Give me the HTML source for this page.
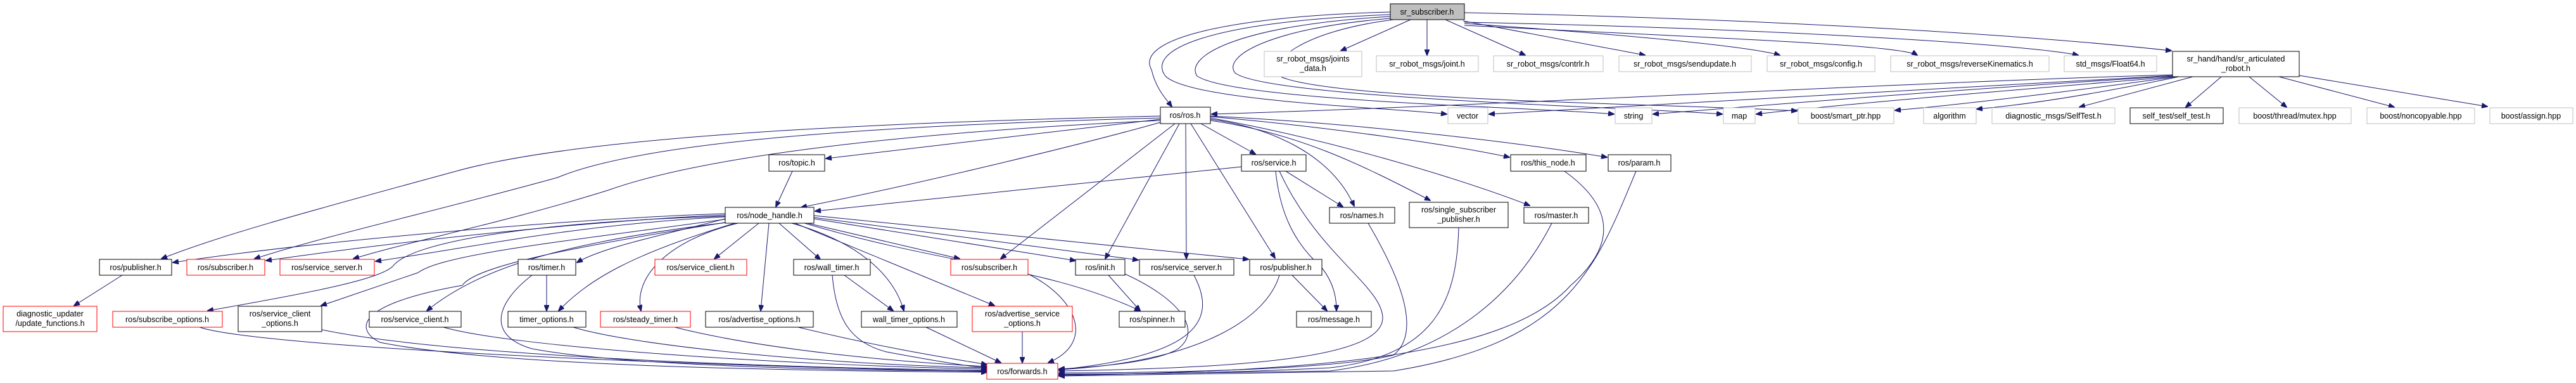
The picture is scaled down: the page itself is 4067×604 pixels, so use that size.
<!DOCTYPE html>
<html><head><meta charset="utf-8"><style>
html,body{margin:0;padding:0;background:#fff;}
svg{display:block;}
text{font-family:"Liberation Sans",sans-serif;font-size:12.5px;fill:#000;text-anchor:middle;}
.k{fill:#fff;stroke:#000;stroke-width:1;}
.r{fill:#fff;stroke:#ff0000;stroke-width:1;}
.g{fill:#fff;stroke:#bfbfbf;stroke-width:1;}
path{fill:none;stroke:#191970;stroke-width:1;}
</style></head><body>
<svg width="4067" height="604" viewBox="0 0 4067 604" xmlns="http://www.w3.org/2000/svg">
<defs><marker id="a" markerWidth="10" markerHeight="8" refX="9" refY="4" orient="auto" markerUnits="userSpaceOnUse"><polygon points="0,0 10,4 0,8" fill="#191970" stroke="#191970"/></marker></defs>
<g marker-end="url(#a)">
<!-- sr_subscriber edges -->
<path d="M2227,31 L2117,80"/>
<path d="M2253,31 L2253,87"/>
<path d="M2282,31 L2408,87"/>
<path d="M2310,33 L2597,87"/>
<path d="M2312,37 C2500,50 2750,70 2810,87"/>
<path d="M2312,40 C2700,60 3000,70 3027,87"/>
<path d="M2312,35 C2800,45 3200,70 3281,87"/>
<path d="M2312,20 C2800,30 3200,55 3428,80"/>
<path d="M2195,19 C1950,25 1790,60 1818,110 C1825,140 1840,155 1850,168"/>
<path d="M2195,23 C1900,35 1810,80 1840,120 C1880,160 2200,170 2284,180"/>
<path d="M2195,26 C1950,40 1870,90 1890,120 C1950,160 2450,170 2548,180"/>
<path d="M2195,29 C2000,45 1930,90 1950,115 C2000,155 2600,170 2719,180"/>
<path d="M2200,31 C2050,50 2000,100 2020,120 C2100,160 2700,165 2837,175"/>
<!-- sr_articulated edges -->
<path d="M3432,119 C3000,140 2600,165 2351,180"/>
<path d="M3432,120 C3100,140 2800,165 2610,180"/>
<path d="M3434,121 C3200,140 2900,165 2773,180"/>
<path d="M3436,121 C3300,140 3100,165 2992,174"/>
<path d="M3440,121 C3300,150 3200,165 3121,172"/>
<path d="M3430,118 C3000,130 2400,165 1913,180"/>
<path d="M3462,121 L3283,169"/>
<path d="M3507,121 L3451,169"/>
<path d="M3551,121 L3610,169"/>
<path d="M3598,121 L3780,169"/>
<path d="M3630,119 L3927,168"/>
<!-- ros.h edges -->
<path d="M1832,188 L1304,250"/>
<path d="M1832,193 C1700,230 1450,290 1265,327"/>
<path d="M1832,183 C1300,195 900,220 720,270 C500,330 350,370 255,408"/>
<path d="M1832,186 C1300,200 1000,230 880,280 C700,330 520,370 402,408"/>
<path d="M1832,190 C1400,210 1100,250 960,300 C800,350 650,380 558,408"/>
<path d="M1855,195 L1580,408"/>
<path d="M1862,195 L1745,408"/>
<path d="M1872,195 L1873,408"/>
<path d="M1880,195 L2013,407"/>
<path d="M1896,195 L1982,243"/>
<path d="M1911,188 C2000,200 2100,240 2138,325"/>
<path d="M1911,190 C2050,210 2150,260 2258,316"/>
<path d="M1911,186 C2100,220 2300,280 2415,324"/>
<path d="M1911,184 C2100,200 2300,230 2383,248"/>
<path d="M1911,183 C2150,195 2400,225 2537,248"/>
<path d="M1251,270 L1225,326"/>
<path d="M1960,263 L1287,333"/>
<path d="M2030,270 L2120,326"/>
<path d="M2014,270 C2020,330 2040,380 2085,420 C2110,450 2110,480 2110,490"/>
<!-- node_handle edges -->
<path d="M1145,337 C900,345 500,380 273,414"/>
<path d="M1145,339 C900,350 600,385 420,411"/>
<path d="M1145,342 C900,355 750,390 593,412"/>
<path d="M1145,345 C1050,370 950,390 911,414"/>
<path d="M1145,341 C850,350 650,380 620,420 C600,440 500,460 328,490"/>
<path d="M1150,345 C900,380 700,400 660,430 L507,482"/>
<path d="M1155,350 C900,380 760,420 674,490"/>
<path d="M1160,352 C1000,400 930,440 882,490"/>
<path d="M1165,352 C1050,380 1000,440 1012,490"/>
<path d="M1150,350 C900,390 750,420 730,450 C560,480 560,520 600,540 C800,580 1300,585 1558,587"/>
<path d="M1198,352 L1128,408"/>
<path d="M1214,352 L1201,490"/>
<path d="M1230,352 L1295,409"/>
<path d="M1250,352 C1350,380 1410,430 1427,490"/>
<path d="M1275,352 L1515,408"/>
<path d="M1255,352 L1570,482"/>
<path d="M1285,345 L1698,411"/>
<path d="M1270,352 C1500,420 1650,420 1800,490"/>
<path d="M1285,343 L1797,410"/>
<path d="M1285,340 L1971,409"/>
<!-- lower edges -->
<path d="M2020,270 C2080,400 2180,450 2183,500 C2185,560 2000,580 1672,585"/>
<path d="M2040,434 L2095,490"/>
<path d="M2020,434 C2000,500 1900,570 1672,583"/>
<path d="M1750,434 L1800,490"/>
<path d="M1776,432 C1860,470 1900,520 1860,550 C1820,575 1700,580 1672,582"/>
<path d="M1885,434 C1920,500 1900,560 1672,583"/>
<path d="M1623,432 C1700,470 1730,540 1655,572"/>
<path d="M1614,523 L1614,572"/>
<path d="M1462,516 L1580,572"/>
<path d="M1260,516 C1400,550 1500,565 1558,575"/>
<path d="M1065,516 C1200,550 1400,570 1558,578"/>
<path d="M1314,434 C1320,500 1340,540 1400,555 C1480,570 1530,578 1558,580"/>
<path d="M1333,434 L1410,490"/>
<path d="M863,434 L863,490"/>
<path d="M840,434 C780,480 770,530 840,550 C1000,580 1400,585 1558,585"/>
<path d="M905,516 C1000,545 1300,575 1558,580"/>
<path d="M700,516 C800,545 1200,575 1558,582"/>
<path d="M508,520 C700,560 1200,580 1558,584"/>
<path d="M315,516 C400,545 1000,575 1558,586"/>
<path d="M193,434 L117,482"/>
<path d="M2160,352 C2200,420 2250,520 2200,560 C2100,585 1800,588 1672,588"/>
<path d="M2303,359 C2300,470 2270,560 2100,580 C1900,590 1750,590 1672,590"/>
<path d="M2450,352 C2400,450 2300,560 2100,585 L1672,591"/>
<path d="M2470,270 C2540,320 2560,380 2480,450 C2380,560 2100,585 1672,592"/>
<path d="M2583,270 C2520,420 2480,540 2200,585 L1672,593"/>
</g>
<!-- nodes -->
<rect x="2195" y="6" width="117" height="25" fill="#bfbfbf" stroke="#000"/><text x="2253" y="23">sr_subscriber.h</text>
<rect class="g" x="1996" y="81" width="154" height="40"/><text x="2073" y="97">sr_robot_msgs/joints</text><text x="2073" y="112">_data.h</text>
<rect class="g" x="2173" y="88" width="161" height="25"/><text x="2253" y="105">sr_robot_msgs/joint.h</text>
<rect class="g" x="2358" y="88" width="173" height="25"/><text x="2444" y="105">sr_robot_msgs/contrlr.h</text>
<rect class="g" x="2556" y="88" width="209" height="25"/><text x="2660" y="105">sr_robot_msgs/sendupdate.h</text>
<rect class="g" x="2790" y="88" width="170" height="25"/><text x="2875" y="105">sr_robot_msgs/config.h</text>
<rect class="g" x="2985" y="88" width="250" height="25"/><text x="3110" y="105">sr_robot_msgs/reverseKinematics.h</text>
<rect class="g" x="3259" y="88" width="146" height="25"/><text x="3332" y="105">std_msgs/Float64.h</text>
<rect class="k" x="3430" y="81" width="200" height="40"/><text x="3530" y="97">sr_hand/hand/sr_articulated</text><text x="3530" y="112">_robot.h</text>
<rect class="k" x="1832" y="169" width="79" height="26"/><text x="1871" y="186">ros/ros.h</text>
<rect class="g" x="2286" y="170" width="63" height="25"/><text x="2317" y="187">vector</text>
<rect class="g" x="2550" y="170" width="58" height="25"/><text x="2579" y="187">string</text>
<rect class="g" x="2721" y="170" width="50" height="25"/><text x="2746" y="187">map</text>
<rect class="g" x="2839" y="170" width="151" height="25"/><text x="2914" y="187">boost/smart_ptr.hpp</text>
<rect class="g" x="3037" y="170" width="83" height="25"/><text x="3078" y="187">algorithm</text>
<rect class="g" x="3145" y="170" width="194" height="25"/><text x="3242" y="187">diagnostic_msgs/SelfTest.h</text>
<rect class="k" x="3363" y="170" width="147" height="25"/><text x="3436" y="187">self_test/self_test.h</text>
<rect class="g" x="3535" y="170" width="177" height="25"/><text x="3623" y="187">boost/thread/mutex.hpp</text>
<rect class="g" x="3737" y="170" width="170" height="25"/><text x="3822" y="187">boost/noncopyable.hpp</text>
<rect class="g" x="3931" y="170" width="131" height="25"/><text x="3996" y="187">boost/assign.hpp</text>
<rect class="k" x="1214" y="244" width="88" height="26"/><text x="1258" y="261">ros/topic.h</text>
<rect class="k" x="1960" y="244" width="102" height="26"/><text x="2011" y="261">ros/service.h</text>
<rect class="k" x="2385" y="244" width="119" height="26"/><text x="2444" y="261">ros/this_node.h</text>
<rect class="k" x="2539" y="244" width="99" height="26"/><text x="2588" y="261">ros/param.h</text>
<rect class="k" x="1145" y="327" width="140" height="25"/><text x="1215" y="344">ros/node_handle.h</text>
<rect class="k" x="2099" y="327" width="103" height="25"/><text x="2150" y="344">ros/names.h</text>
<rect class="k" x="2225" y="319" width="156" height="40"/><text x="2303" y="335">ros/single_subscriber</text><text x="2303" y="350">_publisher.h</text>
<rect class="k" x="2406" y="327" width="102" height="25"/><text x="2457" y="344">ros/master.h</text>
<rect class="k" x="157" y="409" width="114" height="25"/><text x="214" y="426">ros/publisher.h</text>
<rect class="r" x="295" y="409" width="123" height="25"/><text x="356" y="426">ros/subscriber.h</text>
<rect class="r" x="442" y="409" width="149" height="25"/><text x="516" y="426">ros/service_server.h</text>
<rect class="k" x="818" y="409" width="91" height="25"/><text x="863" y="426">ros/timer.h</text>
<rect class="r" x="1034" y="409" width="145" height="25"/><text x="1106" y="426">ros/service_client.h</text>
<rect class="k" x="1253" y="409" width="121" height="25"/><text x="1313" y="426">ros/wall_timer.h</text>
<rect class="r" x="1501" y="409" width="122" height="25"/><text x="1562" y="426">ros/subscriber.h</text>
<rect class="k" x="1698" y="409" width="78" height="25"/><text x="1737" y="426">ros/init.h</text>
<rect class="k" x="1799" y="409" width="149" height="25"/><text x="1873" y="426">ros/service_server.h</text>
<rect class="k" x="1973" y="409" width="114" height="25"/><text x="2030" y="426">ros/publisher.h</text>
<rect class="r" x="5" y="483" width="148" height="40"/><text x="79" y="499">diagnostic_updater</text><text x="79" y="514">/update_functions.h</text>
<rect class="r" x="178" y="491" width="173" height="25"/><text x="264" y="508">ros/subscribe_options.h</text>
<rect class="k" x="376" y="483" width="132" height="40"/><text x="442" y="499">ros/service_client</text><text x="442" y="514">_options.h</text>
<rect class="k" x="583" y="491" width="145" height="25"/><text x="655" y="508">ros/service_client.h</text>
<rect class="k" x="802" y="491" width="123" height="25"/><text x="863" y="508">timer_options.h</text>
<rect class="r" x="948" y="491" width="142" height="25"/><text x="1019" y="508">ros/steady_timer.h</text>
<rect class="k" x="1114" y="491" width="170" height="25"/><text x="1199" y="508">ros/advertise_options.h</text>
<rect class="k" x="1360" y="491" width="151" height="25"/><text x="1435" y="508">wall_timer_options.h</text>
<rect class="r" x="1535" y="483" width="158" height="40"/><text x="1614" y="499">ros/advertise_service</text><text x="1614" y="514">_options.h</text>
<rect class="k" x="1767" y="491" width="104" height="25"/><text x="1819" y="508">ros/spinner.h</text>
<rect class="k" x="2047" y="491" width="118" height="25"/><text x="2106" y="508">ros/message.h</text>
<rect class="r" x="1558" y="573" width="112" height="25"/><text x="1614" y="590">ros/forwards.h</text>
</svg>
</body></html>
